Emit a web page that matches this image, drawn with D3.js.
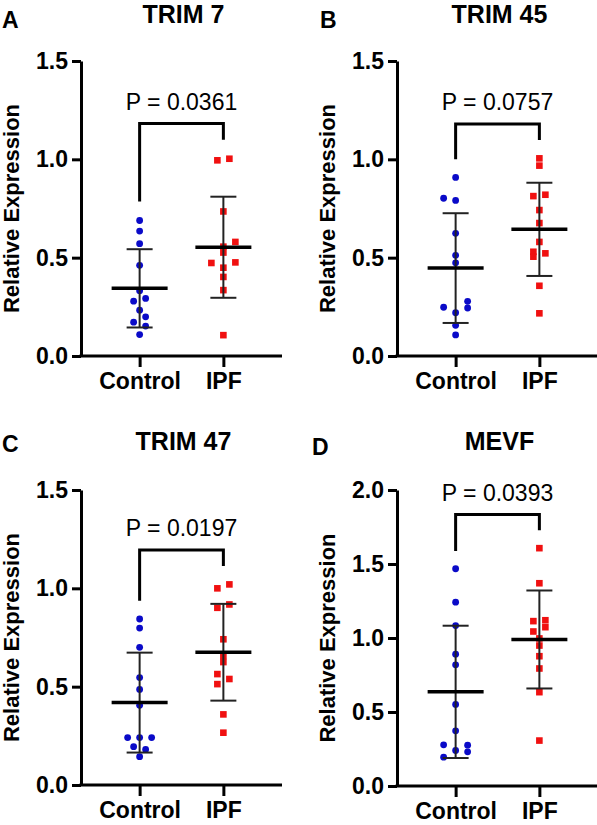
<!DOCTYPE html>
<html>
<head>
<meta charset="utf-8">
<script src="https://cdn.jsdelivr.net/npm/d3@7"></script>
<style>
  html, body { margin: 0; padding: 0; background: #fff; }
  svg { display: block; }
  text { font-family: "Liberation Sans", Arial, sans-serif; fill: #000; }
</style>
</head>
<body>
<svg id="chart" width="597" height="825"></svg>
<script>
// ---------------- DATA ----------------
const groups = ["Control", "IPF"];

// TRIM 7
const trim7Control = [0.689, 0.635, 0.571, 0.461, 0.332, 0.279, 0.293, 0.233, 0.199, 0.172, 0.152, 0.109];
const trim7ControlSlot = [0, 0, 0, 0, 0, -1, 1, 0, 1, -1, 1, 0];
const trim7IPF = [0.995, 1.003, 0.735, 0.580, 0.556, 0.526, 0.473, 0.476, 0.449, 0.402, 0.335, 0.106];
const trim7IPFSlot = [-1, 1, 0, 2, 0, 0, -2, 2, 0, 0, 0, 0];
const trim7Mean = [0.344, 0.553];
const trim7SD = [0.199, 0.257];
const trim7Bracket = [1.182, 0.786, 1.10];

// TRIM 45
const trim45Control = [0.908, 0.802, 0.791, 0.624, 0.512, 0.474, 0.278, 0.248, 0.244, 0.220, 0.156, 0.107];
const trim45ControlSlot = [0, -2, 0, 0, 0, 0, 2, -2, 2, 0, 0, 0];
const trim45IPF = [1.005, 0.968, 0.813, 0.820, 0.742, 0.676, 0.580, 0.530, 0.505, 0.522, 0.357, 0.217];
const trim45IPFSlot = [0, 0, -1, 1, 0, 0, 0, -1, -1, 1, 0, 0];
const trim45Mean = [0.447, 0.644];
const trim45SD = [0.279, 0.237];
const trim45Bracket = [1.18, 1.0, 1.098];

// TRIM 47
const trim47Control = [0.844, 0.798, 0.700, 0.546, 0.486, 0.405, 0.241, 0.241, 0.241, 0.195, 0.181, 0.144];
const trim47ControlSlot = [0, 0, 0, 0, 0, 0, -2, 0, 2, -1, 1, 0];
const trim47IPF = [1.000, 1.020, 0.901, 0.918, 0.741, 0.656, 0.625, 0.564, 0.513, 0.539, 0.359, 0.266];
const trim47IPFSlot = [-1, 1, -1, 1, 0, 0, 0, -1, -1, 1, 0, 0];
const trim47Mean = [0.419, 0.675];
const trim47SD = [0.254, 0.246];
const trim47Bracket = [1.195, 0.937, 1.113];

// MEVF
const mevfControl = [1.468, 1.242, 1.084, 0.891, 0.819, 0.551, 0.373, 0.278, 0.276, 0.240, 0.231, 0.195];
const mevfControlSlot = [0, 0, 0, 0, 0, 0, 0, -2, 2, 0, 2, -2];
const mevfIPF = [1.607, 1.370, 1.114, 1.120, 1.044, 1.073, 0.997, 0.949, 0.877, 0.794, 0.634, 0.307];
const mevfIPFSlot = [0, 0, -1, 1, -1, 1, 0, 0, 0, 0, 0, 0];
const mevfMean = [0.636, 0.990];
const mevfSD = [0.447, 0.331];
const mevfBracket = [1.834, 1.587, 1.728];

const titles = ["TRIM 7", "TRIM 45", "TRIM 47", "MEVF"];
const letters = ["A", "B", "C", "D"];
const pLabels = ["P = 0.0361", "P = 0.0757", "P = 0.0197", "P = 0.0393"];
const yMaxes = [1.5, 1.5, 1.5, 2.0];
const yTicks15 = [0, 0.5, 1.0, 1.5];
const yTicks20 = [0, 0.5, 1.0, 1.5, 2.0];
const yLabel = "Relative Expression";

// ---------------- LAYOUT ----------------
const panels = [
  { ctrl: trim7Control, ctrlSlot: trim7ControlSlot, ipf: trim7IPF, ipfSlot: trim7IPFSlot, mean: trim7Mean, sd: trim7SD, br: trim7Bracket, ticks: yTicks15,
    ax: 81, top: 61, bottom: 356, letterX: 2, letterY: 28, titleY: 23 },
  { ctrl: trim45Control, ctrlSlot: trim45ControlSlot, ipf: trim45IPF, ipfSlot: trim45IPFSlot, mean: trim45Mean, sd: trim45SD, br: trim45Bracket, ticks: yTicks15,
    ax: 397, top: 61, bottom: 356, letterX: 320, letterY: 28, titleY: 23 },
  { ctrl: trim47Control, ctrlSlot: trim47ControlSlot, ipf: trim47IPF, ipfSlot: trim47IPFSlot, mean: trim47Mean, sd: trim47SD, br: trim47Bracket, ticks: yTicks15,
    ax: 81, top: 490, bottom: 785, letterX: 2, letterY: 452, titleY: 450 },
  { ctrl: mevfControl, ctrlSlot: mevfControlSlot, ipf: mevfIPF, ipfSlot: mevfIPFSlot, mean: mevfMean, sd: mevfSD, br: mevfBracket, ticks: yTicks20,
    ax: 397, top: 490, bottom: 786, letterX: 312, letterY: 455, titleY: 450 }
];

const axisWidth = 201;
const slotStep = 6;
const blue = "#0a0ac8";
const red = "#f01010";

const svg = d3.select("#chart");

panels.forEach((p, i) => {
  const g = svg.append("g");
  const x = d3.scalePoint().domain(groups).range([p.ax, p.ax + axisWidth]).padding(0.7);
  const y = d3.scaleLinear().domain([0, yMaxes[i]]).range([p.bottom, p.top]);

  // Y axis
  const yAxis = g.append("g").attr("transform", `translate(${p.ax},0)`)
    .call(d3.axisLeft(y).tickValues(p.ticks).tickFormat(d3.format(".1f")).tickSize(9).tickSizeOuter(0).tickPadding(4));
  yAxis.select(".domain").attr("stroke", "#000").attr("stroke-width", 3);
  yAxis.selectAll(".tick line").attr("stroke", "#000").attr("stroke-width", 3);
  yAxis.selectAll(".tick text").attr("font-size", 23).attr("font-weight", "bold")
    .attr("font-family", "'Liberation Sans', Arial, sans-serif").attr("fill", "#000");

  // X axis
  const xAxis = g.append("g").attr("transform", `translate(0,${p.bottom})`)
    .call(d3.axisBottom(x).tickSize(11).tickSizeOuter(0).tickPadding(6));
  xAxis.select(".domain").attr("stroke", "#000").attr("stroke-width", 3)
    .attr("d", `M${p.ax - 1.5},0H${p.ax + axisWidth}`);
  xAxis.selectAll(".tick line").attr("stroke", "#000").attr("stroke-width", 3);
  xAxis.selectAll(".tick text").attr("font-size", 23).attr("font-weight", "bold")
    .attr("font-family", "'Liberation Sans', Arial, sans-serif").attr("fill", "#000");

  // Y label
  g.append("text")
    .attr("transform", `translate(${p.ax - 62},${(p.top + p.bottom) / 2}) rotate(-90)`)
    .attr("text-anchor", "middle")
    .attr("font-size", 22).attr("font-weight", "bold")
    .text(yLabel);

  // Title and letter
  g.append("text").attr("x", p.ax + axisWidth / 2 + 2).attr("y", p.titleY)
    .attr("text-anchor", "middle").attr("font-size", 25).attr("font-weight", "bold").text(titles[i]);
  g.append("text").attr("x", p.letterX).attr("y", p.letterY)
    .attr("font-size", 23).attr("font-weight", "bold").text(letters[i]);

  // Points
  const ctrlPts = p.ctrl.map((v, k) => ({ v, s: p.ctrlSlot[k] }));
  const ipfPts = p.ipf.map((v, k) => ({ v, s: p.ipfSlot[k] }));
  g.append("g").selectAll("circle").data(ctrlPts).join("circle")
    .attr("cx", d => x("Control") + d.s * slotStep)
    .attr("cy", d => y(d.v))
    .attr("r", 3.4).attr("fill", blue);
  g.append("g").selectAll("rect").data(ipfPts).join("rect")
    .attr("x", d => x("IPF") + d.s * slotStep - 3.3)
    .attr("y", d => y(d.v) - 3.3)
    .attr("width", 6.6).attr("height", 6.6).attr("fill", red);

  // Mean and SD
  groups.forEach((grp, k) => {
    const cx = x(grp), m = p.mean[k], s = p.sd[k];
    g.append("line").attr("x1", cx).attr("x2", cx).attr("y1", y(m + s)).attr("y2", y(m - s))
      .attr("stroke", "#222").attr("stroke-width", 2);
    [m + s, m - s].forEach(v => {
      g.append("line").attr("x1", cx - 13).attr("x2", cx + 13).attr("y1", y(v)).attr("y2", y(v))
        .attr("stroke", "#222").attr("stroke-width", 2);
    });
    g.append("line").attr("x1", cx - 28).attr("x2", cx + 28).attr("y1", y(m)).attr("y2", y(m))
      .attr("stroke", "#000").attr("stroke-width", 3.5);
  });

  // Bracket
  const [bt, bl, bri] = p.br;
  const x0 = x("Control"), x1 = x("IPF");
  g.append("path")
    .attr("d", `M${x0},${y(bl)}V${y(bt)}H${x1}V${y(bri)}`)
    .attr("fill", "none").attr("stroke", "#000").attr("stroke-width", 3);
  g.append("text").attr("x", (x0 + x1) / 2).attr("y", y(bt) - 14)
    .attr("text-anchor", "middle").attr("font-size", 23).text(pLabels[i]);
});
</script>
</body>
</html>
